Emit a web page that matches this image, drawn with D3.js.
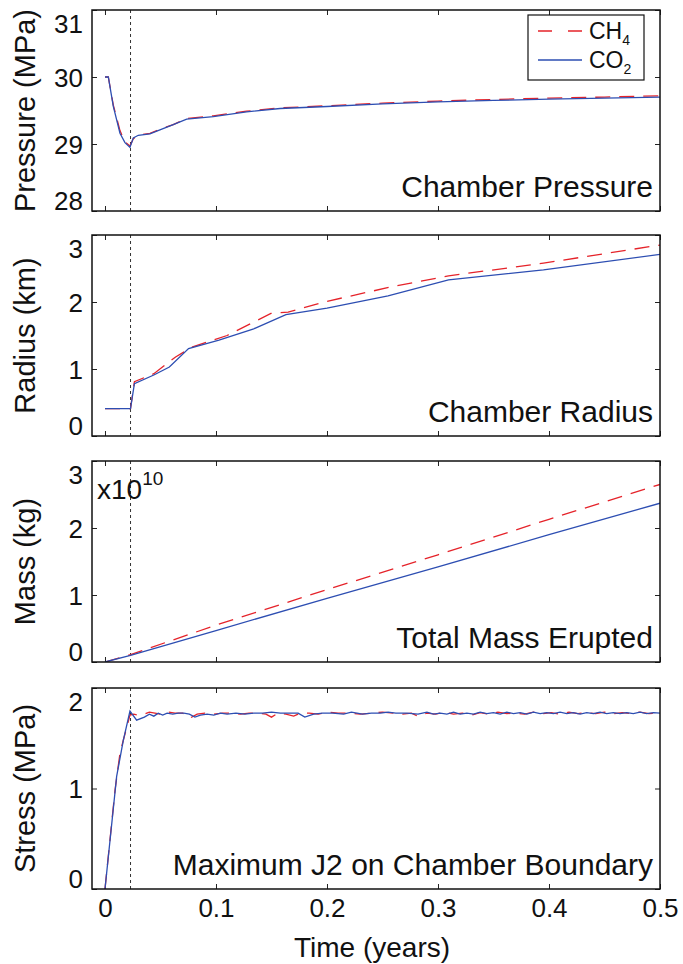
<!DOCTYPE html>
<html>
<head>
<meta charset="utf-8">
<script src="https://cdn.jsdelivr.net/npm/d3@7"></script>
<style>
  body { margin: 0; background: #fff; }
  svg { font-family: "Liberation Sans", Arial, Helvetica, sans-serif; }
</style>
</head>
<body>
<div id="chart"></div>
<script>
// Chamber evolution, CH4 vs CO2

// time axis
const timeTicks = [0, 0.1, 0.2, 0.3, 0.4, 0.5];
const eruptionStart = 0.023;   // dotted vertical line

// chamber pressure (MPa)
const pressureTime = [0, 0.003, 0.0075, 0.0135, 0.018, 0.0225, 0.0255, 0.030, 0.0405, 0.0495, 0.0615,
  0.0736, 0.0976, 0.1276, 0.1577, 0.2, 0.25, 0.3, 0.35, 0.4, 0.45, 0.5];
const pressureCO2 = [30.0, 30.0, 29.56, 29.16, 29.02, 28.95, 29.09, 29.13, 29.15, 29.21, 29.29,
  29.37, 29.41, 29.48, 29.53, 29.56, 29.60, 29.63, 29.65, 29.67, 29.685, 29.70];
const pressureCH4 = [30.0, 30.0, 29.58, 29.20, 29.03, 28.97, 29.08, 29.13, 29.16, 29.22, 29.29,
  29.38, 29.42, 29.49, 29.54, 29.57, 29.61, 29.64, 29.665, 29.685, 29.70, 29.72];

// chamber radius (km)
const radiusTimeCO2 = [0, 0.023, 0.0265, 0.044, 0.058, 0.0753, 0.1027, 0.134, 0.163, 0.200, 0.255, 0.3095, 0.395, 0.5];
const radiusCO2 = [0.41, 0.41, 0.78, 0.91, 1.03, 1.305, 1.43, 1.60, 1.81, 1.91, 2.09, 2.33, 2.48, 2.71];
const radiusTimeCH4 = [0, 0.023, 0.0265, 0.044, 0.0636, 0.079, 0.110, 0.1495, 0.165, 0.2, 0.259, 0.3095, 0.395, 0.5];
const radiusCH4 = [0.41, 0.41, 0.81, 0.93, 1.18, 1.33, 1.50, 1.83, 1.85, 2.01, 2.23, 2.39, 2.58, 2.85];

// total mass erupted (x10^10 kg)
const massTime = [0, 0.023, 0.1, 0.2, 0.3, 0.4, 0.5];
const massCO2 = [0, 0.10, 0.47, 0.95, 1.42, 1.90, 2.37];
const massCH4 = [0, 0.11, 0.55, 1.08, 1.60, 2.13, 2.65];

// maximum J2 on chamber boundary (MPa)
const stressTimeCO2 = [0, 0.0105, 0.0165, 0.0225, 0.0285, 0.0355, 0.040, 0.044, 0.048, 0.052, 0.056, 0.061,
  0.066, 0.071, 0.076, 0.081, 0.086, 0.092, 0.098, 0.104, 0.110, 0.118, 0.126, 0.134, 0.142, 0.150,
  0.158, 0.166, 0.174, 0.180, 0.188, 0.196, 0.205, 0.215, 0.222, 0.232, 0.240, 0.248, 0.255, 0.262,
  0.272, 0.282, 0.290, 0.296, 0.302, 0.308, 0.314, 0.320, 0.326, 0.332, 0.338, 0.344, 0.350, 0.356,
  0.362, 0.368, 0.374, 0.380, 0.386, 0.392, 0.398, 0.404, 0.410, 0.416, 0.422, 0.428, 0.434, 0.440,
  0.446, 0.452, 0.458, 0.464, 0.470, 0.476, 0.482, 0.488, 0.494, 0.5];
const stressCO2 = [0, 1.12, 1.48, 1.77, 1.68, 1.71, 1.74, 1.72, 1.75, 1.73, 1.75, 1.74,
  1.75, 1.75, 1.74, 1.71, 1.73, 1.74, 1.73, 1.75, 1.74, 1.75, 1.74, 1.75, 1.75, 1.76,
  1.75, 1.75, 1.75, 1.71, 1.74, 1.75, 1.75, 1.74, 1.76, 1.74, 1.75, 1.75, 1.76, 1.75,
  1.75, 1.74, 1.76, 1.74, 1.75, 1.74, 1.76, 1.74, 1.75, 1.74, 1.76, 1.745, 1.755, 1.74,
  1.76, 1.745, 1.755, 1.74, 1.76, 1.745, 1.755, 1.745, 1.76, 1.745, 1.755, 1.74, 1.755, 1.745,
  1.76, 1.745, 1.755, 1.745, 1.755, 1.745, 1.76, 1.745, 1.755, 1.75];
const stressTimeCH4 = [0, 0.009, 0.0135, 0.0165, 0.0225, 0.026, 0.030, 0.035, 0.040, 0.045, 0.050, 0.057,
  0.063, 0.070, 0.0766, 0.083, 0.090, 0.098, 0.106, 0.114, 0.122, 0.130, 0.138, 0.145, 0.150, 0.156,
  0.163, 0.170, 0.176, 0.184, 0.192, 0.200, 0.210, 0.220, 0.230, 0.240, 0.250, 0.260, 0.268, 0.276,
  0.282, 0.290, 0.298, 0.306, 0.314, 0.322, 0.330, 0.338, 0.346, 0.354, 0.362, 0.370, 0.378, 0.386,
  0.394, 0.402, 0.410, 0.418, 0.426, 0.434, 0.442, 0.450, 0.458, 0.466, 0.474, 0.482, 0.490, 0.5];
const stressCH4 = [0, 0.98, 1.35, 1.48, 1.73, 1.74, 1.73, 1.74, 1.76, 1.75, 1.74, 1.76,
  1.75, 1.75, 1.70, 1.74, 1.75, 1.74, 1.75, 1.75, 1.74, 1.75, 1.75, 1.74, 1.71, 1.75,
  1.74, 1.72, 1.75, 1.75, 1.74, 1.76, 1.75, 1.75, 1.74, 1.75, 1.76, 1.75, 1.74, 1.75,
  1.72, 1.75, 1.74, 1.76, 1.74, 1.75, 1.73, 1.755, 1.74, 1.76, 1.745, 1.75, 1.74, 1.76,
  1.745, 1.755, 1.74, 1.76, 1.745, 1.755, 1.745, 1.76, 1.745, 1.755, 1.745, 1.76, 1.745, 1.75];

// global layout
var width = 683;
var height = 964;
var left = 92, right = 660;
var panelH = 201;
var redColor = "#e5232a";
var blueColor = "#2d4eb2";

var svg = d3.select("#chart")
  .append("svg")
  .attr("width", width)
  .attr("height", height);

var x = d3.scaleLinear().domain([-0.0117, 0.5]).range([left, right]);

var panels = [
  { top: 10, domain: [28, 31], ticks: [28, 29, 30, 31], ylabel: "Pressure (MPa)", title: "Chamber Pressure",
    co2: d3.zip(pressureTime, pressureCO2), ch4: d3.zip(pressureTime, pressureCH4) },
  { top: 235, domain: [0, 3], ticks: [0, 1, 2, 3], ylabel: "Radius (km)", title: "Chamber Radius",
    co2: d3.zip(radiusTimeCO2, radiusCO2), ch4: d3.zip(radiusTimeCH4, radiusCH4) },
  { top: 461, domain: [0, 3], ticks: [0, 1, 2, 3], ylabel: "Mass (kg)", title: "Total Mass Erupted",
    co2: d3.zip(massTime, massCO2), ch4: d3.zip(massTime, massCH4) },
  { top: 688, domain: [0, 2], ticks: [0, 1, 2], ylabel: "Stress (MPa)", title: "Maximum J2 on Chamber Boundary",
    co2: d3.zip(stressTimeCO2, stressCO2), ch4: d3.zip(stressTimeCH4, stressCH4) }
];

panels.forEach(function(p, i) {
  var y = d3.scaleLinear().domain(p.domain).range([p.top + panelH, p.top]);
  var g = svg.append("g").attr("class", "panel");

  // clip so lines stay inside the box
  svg.append("clipPath").attr("id", "clip" + i)
    .append("rect")
    .attr("x", left).attr("y", p.top)
    .attr("width", right - left).attr("height", panelH);

  // ticks on all four sides, pointing in
  var yl = g.append("g").attr("transform", "translate(" + left + ",0)")
    .call(d3.axisLeft(y).tickValues(p.ticks).tickSize(-5).tickPadding(9).tickFormat(d3.format("d")));
  g.append("g").attr("transform", "translate(" + right + ",0)")
    .call(d3.axisRight(y).tickValues(p.ticks).tickSize(-5).tickFormat(""));
  g.append("g").attr("transform", "translate(0," + p.top + ")")
    .call(d3.axisTop(x).tickValues(timeTicks).tickSize(-5).tickFormat(""));
  g.append("g").attr("transform", "translate(0," + (p.top + panelH) + ")")
    .call(d3.axisBottom(x).tickValues(timeTicks).tickSize(-5).tickPadding(10)
      .tickFormat(i == 3 ? d3.format("") : ""));

  g.selectAll(".domain").remove();
  g.selectAll(".tick line").attr("stroke", "#222").attr("stroke-width", 1);
  g.selectAll(".tick text").attr("fill", "#111").style("font-size", "26px");

  // top and bottom labels sit inside the box edges
  yl.selectAll(".tick text")
    .attr("dy", function(d) {
      if (d == p.domain[1]) return "0.85em";
      if (d == p.domain[0]) return "-0.05em";
      return "0.35em";
    });

  // eruption onset
  g.append("line")
    .attr("x1", x(eruptionStart)).attr("x2", x(eruptionStart))
    .attr("y1", p.top).attr("y2", p.top + panelH)
    .attr("stroke", "#333").attr("stroke-width", 1)
    .attr("stroke-dasharray", "3,3");

  var line = d3.line().x(d => x(d[0])).y(d => y(d[1]));

  g.append("path").datum(p.ch4)
    .attr("clip-path", "url(#clip" + i + ")")
    .attr("d", line)
    .attr("fill", "none")
    .attr("stroke", redColor)
    .attr("stroke-width", 1.3)
    .attr("stroke-dasharray", "15,9");

  g.append("path").datum(p.co2)
    .attr("clip-path", "url(#clip" + i + ")")
    .attr("d", line)
    .attr("fill", "none")
    .attr("stroke", blueColor)
    .attr("stroke-width", 1.3);

  // box
  g.append("rect")
    .attr("x", left).attr("y", p.top)
    .attr("width", right - left).attr("height", panelH)
    .attr("fill", "none").attr("stroke", "#111").attr("stroke-width", 1.5);

  // panel title
  g.append("text")
    .attr("x", right - 7).attr("y", p.top + panelH - 14)
    .attr("text-anchor", "end")
    .style("font-size", "30px")
    .attr("fill", "#111")
    .text(p.title);

  // y label
  g.append("text")
    .attr("transform", "translate(35," + (p.top + panelH / 2) + ") rotate(-90)")
    .attr("text-anchor", "middle")
    .style("font-size", "29px")
    .attr("fill", "#111")
    .text(p.ylabel);

  if (i == 2) {
    var ex = g.append("text")
      .attr("x", 97).attr("y", p.top + 38)
      .style("font-size", "28px")
      .attr("fill", "#111");
    ex.append("tspan").text("x10");
    ex.append("tspan").attr("dy", -14).style("font-size", "19px").text("10");
  }

  if (i == 0) {
    // legend
    var lg = g.append("g");
    lg.append("rect")
      .attr("x", 528).attr("y", 15).attr("width", 116).attr("height", 65)
      .attr("fill", "#fff").attr("stroke", "#111").attr("stroke-width", 1.2);
    var items = [
      { name: "CH", sub: "4", color: redColor, dash: "14,16", y: 31 },
      { name: "CO", sub: "2", color: blueColor, dash: null, y: 60 }
    ];
    items.forEach(function(it) {
      lg.append("line")
        .attr("x1", 538).attr("x2", 582).attr("y1", it.y).attr("y2", it.y)
        .attr("stroke", it.color).attr("stroke-width", 1.6)
        .attr("stroke-dasharray", it.dash);
      var t = lg.append("text")
        .attr("x", 589).attr("y", it.y + 8)
        .style("font-size", "23px")
        .attr("fill", "#111");
      t.append("tspan").text(it.name);
      t.append("tspan").attr("dy", 6).style("font-size", "14px").text(it.sub);
    });
  }
});

// x axis label
svg.append("text")
  .attr("x", (left + right) / 2 - 4).attr("y", 957)
  .attr("text-anchor", "middle")
  .style("font-size", "28px")
  .attr("fill", "#111")
  .text("Time (years)");
</script>
</body>
</html>
